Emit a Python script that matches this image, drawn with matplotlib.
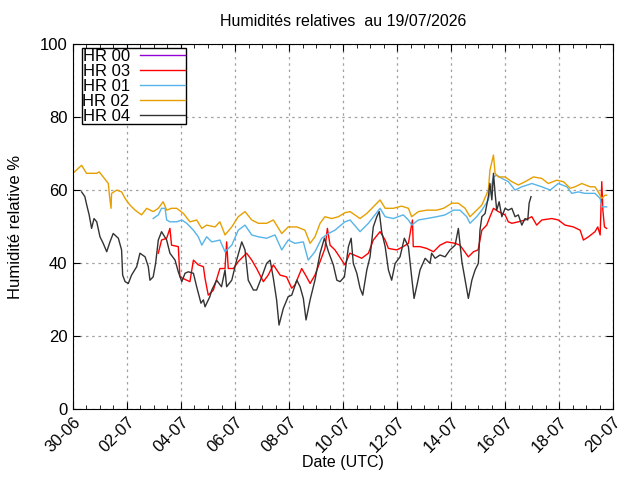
import matplotlib
matplotlib.use("Agg")
import matplotlib.pyplot as plt
from matplotlib.ticker import MultipleLocator

plt.rcParams['font.family'] = ['Liberation Sans', 'DejaVu Sans']

# days counted from 30-06 00:00 UTC
tick_days = [0, 2, 4, 6, 8, 10, 12, 14, 16, 18, 20]
tick_labels = ['30-06', '02-07', '04-07', '06-07', '08-07', '10-07',
               '12-07', '14-07', '16-07', '18-07', '20-07']

# HR 00 : no data in the period
hr00_t = []
hr00_v = []

hr02_t = [0.0, 0.32, 0.5, 0.88, 0.97, 1.12, 1.31, 1.35, 1.41, 1.43, 1.62, 1.8, 1.93,
          2.11, 2.3, 2.54, 2.73, 2.97, 3.16, 3.34, 3.47, 3.65, 3.84, 4.09, 4.33, 4.58,
          4.77, 4.95, 5.26, 5.44, 5.63, 5.88, 6.12, 6.37, 6.62, 6.86, 7.17, 7.42, 7.73,
          7.97, 8.29, 8.59, 8.78, 8.96, 9.15, 9.33, 9.58, 9.83, 10.07, 10.26, 10.63,
          10.88, 11.12, 11.37, 11.56, 11.86, 12.17, 12.42, 12.54, 12.79, 13.1, 13.47,
          13.72, 14.03, 14.27, 14.52, 14.7, 14.95, 15.14, 15.38, 15.44, 15.57, 15.63,
          15.75, 16.0, 16.25, 16.49, 16.74, 17.05, 17.36, 17.6, 17.91, 18.16, 18.41,
          18.59, 18.84, 19.15, 19.33, 19.48, 19.58, 19.7, 19.76]
hr02_v = [64.6, 66.8, 64.6, 64.6, 65.0, 63.6, 61.8, 58.6, 55.0, 59.1, 60.0, 59.5, 57.7,
          55.9, 54.5, 53.2, 55.0, 54.1, 55.0, 56.8, 54.5, 55.0, 55.0, 53.6, 51.3, 51.8,
          49.5, 50.4, 49.9, 51.3, 47.7, 49.9, 52.7, 54.1, 51.8, 50.9, 50.9, 51.8, 48.1,
          49.9, 49.9, 49.0, 45.4, 47.2, 50.9, 52.7, 52.2, 52.7, 53.8, 54.1, 52.2,
          53.6, 55.4, 57.3, 55.0, 55.0, 55.6, 55.0, 52.7, 54.1, 54.5, 54.5,
          55.0, 56.4, 56.4, 55.0, 52.7, 54.5, 55.9, 60.0, 65.5, 69.6, 64.6,
          63.6, 63.6, 62.3, 61.4, 62.3, 63.6, 63.2, 61.8, 62.7, 62.3, 60.5,
          60.9, 61.8, 60.9, 60.9, 59.1, 57.7, 58.6, 58.6]

hr01_t = [2.97, 3.16, 3.28, 3.41, 3.47, 3.59, 3.84, 4.03, 4.21, 4.46, 4.64, 4.77, 4.95,
          5.14, 5.44, 5.63, 5.88, 6.12, 6.37, 6.62, 6.86, 7.17, 7.48, 7.73, 7.97, 8.22,
          8.53, 8.71, 8.96, 9.21, 9.46, 9.7, 10.07, 10.26, 10.63, 10.94, 11.37, 11.56,
          11.86, 12.23, 12.42, 12.54, 12.79, 13.1, 13.47, 13.78, 14.09, 14.33, 14.58,
          14.7, 14.95, 15.14, 15.38, 15.57, 15.69, 15.88, 16.12, 16.37, 16.62, 16.99,
          17.36, 17.67, 17.97, 18.29, 18.47, 18.71, 18.96, 19.33, 19.52, 19.58, 19.76]
hr01_v = [52.2, 53.2, 55.0, 55.0, 51.8, 51.3, 51.3, 51.8, 50.9, 49.0, 47.2, 44.9, 47.2,
          45.8, 46.3, 43.1, 44.9, 49.0, 50.4, 47.7, 47.2, 46.8, 47.7, 43.6, 46.3, 45.4,
          45.8, 40.8, 43.1, 46.8, 48.1, 49.0, 51.3, 51.8, 48.6, 50.9, 55.0, 52.7,
          52.2, 53.2, 51.8, 50.4, 51.8, 52.2, 52.7, 53.2, 54.5, 54.5, 52.7,
          50.9, 52.7, 54.5, 57.3, 63.6, 64.1, 63.2, 62.3, 60.0, 60.9, 61.8,
          60.9, 60.0, 61.8, 60.9, 59.1, 59.5, 59.1, 59.1, 57.7, 55.4, 55.4]

hr03_t = [3.16, 3.28, 3.47, 3.59, 3.65, 3.9, 3.96, 4.21, 4.33, 4.46, 4.64, 4.83, 4.89,
          5.01, 5.2, 5.44, 5.63, 5.69, 5.75, 5.94, 6.12, 6.43, 6.62, 6.8, 7.05, 7.23,
          7.42, 7.67, 7.91, 8.1, 8.22, 8.47, 8.65, 8.78, 8.96, 9.15, 9.33, 9.42, 9.52,
          9.7, 9.89, 10.07, 10.25, 10.57, 10.69, 10.94, 11.12, 11.37, 11.56, 11.68,
          11.99, 12.23, 12.42, 12.57, 12.6, 12.85, 13.1, 13.35, 13.59, 13.84, 14.15,
          14.33, 14.64, 14.83, 15.0, 15.14, 15.32, 15.44, 15.57, 15.75, 16.0, 16.12,
          16.25, 16.49, 16.74, 16.99, 17.17, 17.36, 17.73, 17.97, 18.22, 18.53, 18.78,
          18.9, 19.09, 19.33, 19.43, 19.52, 19.58, 19.62, 19.68, 19.76]
hr03_v = [42.7, 46.3, 46.8, 49.5, 44.9, 44.5, 36.2, 35.3, 34.9, 40.8, 39.5, 39.0, 35.8,
          31.2, 32.6, 38.5, 38.5, 45.8, 38.5, 38.5, 40.4, 42.7, 40.8, 38.5, 34.9, 36.7,
          39.5, 36.7, 36.2, 33.1, 34.0, 38.5, 36.2, 34.4, 36.7, 40.4, 44.0, 49.5, 44.9,
          43.6, 41.5, 39.5, 42.7, 41.7, 41.3, 42.7, 46.3, 48.6, 46.3, 44.0,
          43.6, 44.5, 45.4, 51.8, 44.5, 44.5, 44.0, 43.1, 44.9, 45.8, 45.4,
          44.9, 41.7, 43.1, 43.6, 49.0, 50.4, 52.7, 55.0, 54.1, 53.2, 51.3,
          50.9, 51.3, 51.8, 52.7, 50.4, 51.8, 52.2, 51.8, 50.4, 49.9, 49.0,
          46.3, 47.2, 48.6, 49.9, 47.7, 62.3, 54.5, 49.9, 49.5]

hr04_t = [0.32, 0.44, 0.51, 0.6, 0.69, 0.78, 0.88, 1.0, 1.12, 1.25, 1.37, 1.49, 1.68,
          1.8, 1.84, 1.93, 2.05, 2.17, 2.36, 2.48, 2.67, 2.79, 2.85, 2.97, 3.06, 3.16,
          3.28, 3.47, 3.59, 3.78, 3.9, 4.03, 4.15, 4.27, 4.46, 4.58, 4.74, 4.83, 4.89,
          5.07, 5.14, 5.32, 5.5, 5.63, 5.69, 5.88, 6.06, 6.25, 6.37, 6.49, 6.68, 6.8,
          6.99, 7.17, 7.3, 7.42, 7.54, 7.63, 7.79, 7.97, 8.1, 8.29, 8.41, 8.53, 8.63,
          8.78, 8.96, 9.15, 9.31, 9.46, 9.64, 9.77, 9.89, 10.05, 10.2, 10.3, 10.38,
          10.51, 10.63, 10.73, 10.88, 11.0, 11.12, 11.25, 11.34, 11.43, 11.56, 11.68,
          11.8, 11.93, 12.11, 12.27, 12.42, 12.54, 12.63, 12.75, 12.85, 13.04, 13.22,
          13.28, 13.41, 13.59, 13.78, 13.96, 14.15, 14.27, 14.4, 14.52, 14.64, 14.77,
          14.89, 15.01, 15.07, 15.14, 15.26, 15.38, 15.44, 15.51, 15.57, 15.63, 15.69,
          15.78, 15.88, 16.0, 16.12, 16.25, 16.37, 16.49, 16.62, 16.74, 16.84, 16.89,
          16.96]
hr04_v = [59.5, 58.2, 55.9, 53.2, 49.5, 52.2, 51.3, 47.2, 45.4, 43.1, 45.8, 48.1, 46.8,
          43.6, 36.7, 34.9, 34.4, 36.7, 39.0, 42.7, 41.7, 39.0, 35.3, 36.2, 39.9, 46.3,
          48.6, 46.3, 42.7, 40.8, 37.6, 34.9, 37.2, 37.6, 37.2, 33.5, 29.0, 29.9, 28.0,
          30.8, 32.6, 35.3, 33.5, 38.1, 33.5, 35.3, 40.8, 45.8, 43.6, 35.3, 32.6, 32.6,
          36.2, 39.9, 40.8, 35.8, 29.9, 23.0, 27.6, 30.8, 31.2, 35.3, 33.5, 30.3, 24.4,
          29.9, 35.3, 42.7, 46.8, 43.1, 39.5, 35.3, 34.9, 36.2, 44.5, 46.8, 39.9,
          37.2, 33.1, 31.2, 38.1, 41.7, 49.9, 52.7, 54.1, 48.6, 44.5, 38.1,
          35.3, 39.9, 41.7, 46.8, 44.5, 36.2, 30.3, 34.4, 38.1, 41.3, 39.9,
          42.7, 41.3, 42.2, 41.7, 43.6, 44.9, 49.5, 40.4, 35.3, 30.3, 35.3,
          38.1, 39.9, 49.0, 52.7, 53.6, 58.2, 61.8, 57.3, 64.6, 59.1, 54.5,
          56.8, 52.7, 55.0, 54.5, 55.0, 52.7, 53.2, 50.4, 52.2, 51.8, 56.4,
          58.2]

fig = plt.figure(figsize=(6.4, 4.8), dpi=100)
ax = fig.add_axes([0.114, 0.148, 0.844, 0.760])

ax.plot(hr00_t, hr00_v, color='#9400d3', lw=1, label='HR 00')
ax.plot(hr03_t, hr03_v, color='#ff0000', lw=1, label='HR 03')
ax.plot(hr01_t, hr01_v, color='#56b4e9', lw=1, label='HR 01')
ax.plot(hr02_t, hr02_v, color='#e69f00', lw=1, label='HR 02')
ax.plot(hr04_t, hr04_v, color='#333333', lw=1, label='HR 04')

ax.set_xlim(0, 20)
ax.set_ylim(0, 100)
ax.set_xticks(tick_days)
ax.set_xticklabels(tick_labels, rotation=45, ha='right', rotation_mode='anchor')
ax.xaxis.set_minor_locator(MultipleLocator(0.5))
ax.set_yticks([0, 20, 40, 60, 80, 100])
ax.tick_params(axis='both', which='both', direction='in', top=True, right=True,
               labelsize=12, colors='black')
ax.tick_params(axis='both', which='major', length=5, pad=4)
ax.tick_params(axis='x', which='minor', length=3)
ax.grid(True, which='major', linestyle=(0, (2, 3)), color='#a0a0a0', lw=0.9)

ax.set_title('Humidités relatives  au 19/07/2026', fontsize=11.5, pad=13)
ax.set_xlabel('Date (UTC)', fontsize=11.5, labelpad=0)
ax.set_ylabel('Humidité relative %', fontsize=12, labelpad=12)

leg = ax.legend(loc='upper left', bbox_to_anchor=(0.016, 0.99), borderaxespad=0,
                markerfirst=False, fontsize=12, frameon=True,
                fancybox=False, edgecolor='black', framealpha=1, handlelength=2.7,
                labelspacing=0.0, borderpad=0.05, handletextpad=0.6)
leg.get_frame().set_linewidth(1)

fig.savefig('out.png', dpi=100)
